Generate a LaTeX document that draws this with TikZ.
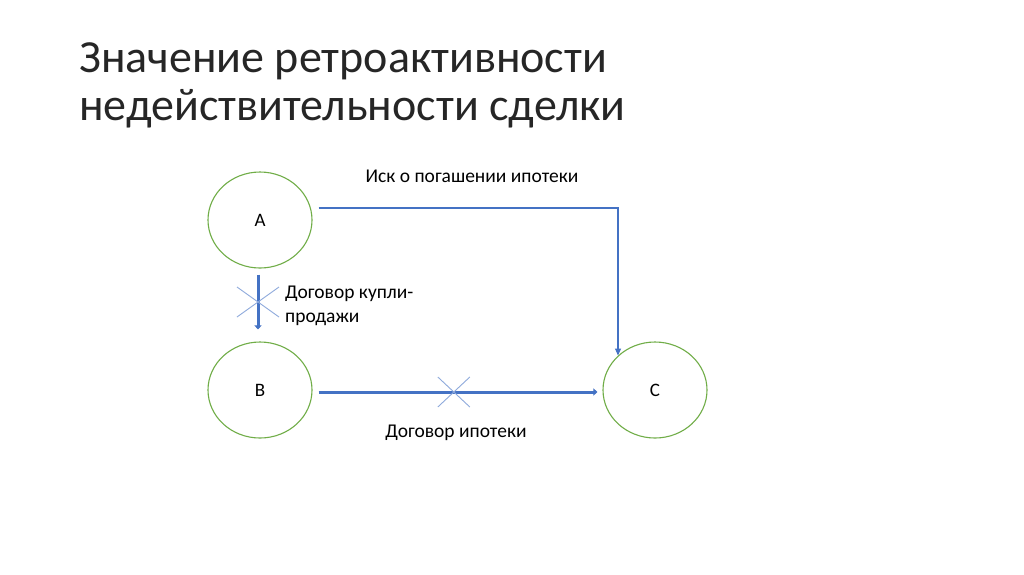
\documentclass[tikz,border=0pt]{standalone}
\usepackage{fontspec}
\setmainfont{Carlito}
\usetikzlibrary{shapes.geometric,arrows.meta}
\definecolor{cgreen}{HTML}{70AD47}
\definecolor{cblue}{HTML}{4472C4}
\definecolor{clight}{HTML}{8FAADC}
\tikzset{
  party/.style={draw=cgreen, line width=1.1pt, ellipse, minimum width=104pt, minimum height=96pt, inner sep=0pt, font=\fontsize{19}{22}\selectfont},
  thin link/.style={draw=cblue, line width=1.1pt, -{Triangle[length=7pt,width=6pt]}},
  thick link/.style={draw=cblue, line width=3pt, -{Triangle[length=4pt,width=7pt]}},
  crossline/.style={draw=clight, line width=0.9pt},
  lbl/.style={font=\fontsize{19.5}{24}\selectfont, inner sep=0pt},
}
\begin{document}
\begin{tikzpicture}[x=1pt,y=-1pt]
\useasboundingbox[fill=white] (0,0) rectangle (1024,574);
\node[anchor=base west, inner sep=0pt, align=left, font=\fontsize{46}{48}\selectfont, text=black!85] (title) at (79,120) {Значение ретроактивности\\недействительности сделки};
\node[party] (A) at (260,220) {A};
\node[party] (B) at (260,390) {B};
\node[party] (C) at (655,390) {C};
\draw[thin link] ([shift={(6,-12)}]A.east) -| (C.137);
\draw[thick link] ([shift={(-2,6)}]A.south) -- coordinate[pos=0.5] (m1) ([shift={(-2,-12)}]B.north);
\draw[thick link] ([shift={(6,2)}]B.east) -- coordinate[pos=0.485] (m2) ([shift={(-5,2)}]C.west);
\draw[crossline] ([shift={(-21,-15)}]m1) -- ([shift={(21,15)}]m1);
\draw[crossline] ([shift={(-21,15)}]m1) -- ([shift={(21,-15)}]m1);
\draw[crossline] ([shift={(-16,-15)}]m2) -- ([shift={(16,15)}]m2);
\draw[crossline] ([shift={(-16,15)}]m2) -- ([shift={(16,-15)}]m2);
\node[lbl] (l1) at (472,176) {Иск о погашении ипотеки};
\node[lbl, anchor=west, align=left] (l2) at (285,306) {Договор купли-\\продажи};
\node[lbl] (l3) at (456,433) {Договор ипотеки};
\end{tikzpicture}
\end{document}
